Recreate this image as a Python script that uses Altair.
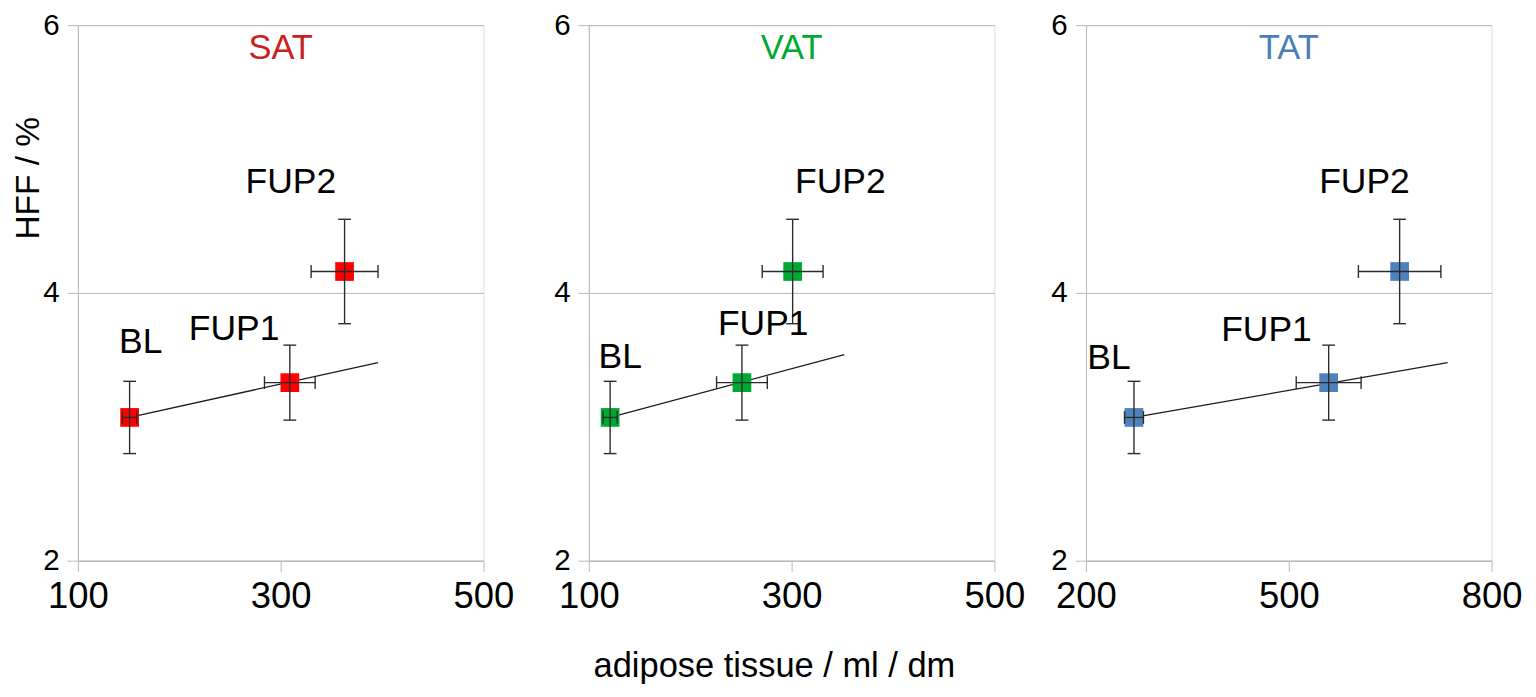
import altair as alt
import pandas as pd

# ---------------- data ----------------
periods = ["BL", "FUP1", "FUP2"]
hff = [3.07, 3.33, 4.16]          # HFF / %
hff_err = [0.27, 0.28, 0.39]

sat_vol = [151, 309, 363]
sat_err = [7, 25, 33]
vat_vol = [121, 251, 301]
vat_err = [7, 25, 30]
tat_vol = [271, 559, 664]
tat_err = [14, 48, 61]

# trend lines (start / end)
sat_trend_x = [151, 396]
sat_trend_y = [3.07, 3.48]
vat_trend_x = [121, 352]
vat_trend_y = [3.07, 3.54]
tat_trend_x = [271, 735]
tat_trend_y = [3.07, 3.48]

# point label anchors (data units)
sat_lab_x = [162, 254, 310]
sat_lab_y = [3.63, 3.73, 4.83]
vat_lab_x = [131, 272, 348]
vat_lab_y = [3.52, 3.77, 4.83]
tat_lab_x = [234, 467, 612]
tat_lab_y = [3.51, 3.72, 4.83]

GRAY = "#b8b8b8"
FONT = "Liberation Sans"
W, H = 412, 544


def panel(name, title_color, marker_color, vol, vol_err, tx, ty, lx, ly,
          domain, ticks, y_title=None, x_title=None):
    df = pd.DataFrame({
        "period": periods,
        "x": vol,
        "xlo": [v - e for v, e in zip(vol, vol_err)],
        "xhi": [v + e for v, e in zip(vol, vol_err)],
        "y": hff,
        "ylo": [v - e for v, e in zip(hff, hff_err)],
        "yhi": [v + e for v, e in zip(hff, hff_err)],
        "lx": lx,
        "ly": ly,
    })
    tdf = pd.DataFrame({"x": tx, "y": ty})

    xscale = alt.Scale(domain=domain, nice=False, zero=False)
    yscale = alt.Scale(domain=[2, 6], nice=False, zero=False)

    xaxis_kw = dict(values=ticks, grid=False, tickSize=11, labelPadding=8,
                    labelFontSize=37, domainColor=GRAY, tickColor=GRAY,
                    labelColor="black", labelFont=FONT, labelFlush=False)
    if x_title:
        xaxis_kw.update(title=x_title, titleFontSize=35, titleFont=FONT,
                        titleFontWeight="normal", titleColor="black",
                        titleX=188, titleY=107, titleBaseline="middle")
    else:
        xaxis_kw.update(title=None)
    yaxis_kw = dict(values=[2, 4, 6], grid=True, gridColor=GRAY, tickSize=11,
                    labelPadding=8, labelFontSize=30, domainColor=GRAY,
                    tickColor=GRAY, labelColor="black", labelFont=FONT)
    if y_title:
        yaxis_kw.update(title=y_title, titleFontSize=34, titleFont=FONT,
                        titleFontWeight="normal", titleColor="black",
                        titleX=-50, titleY=155, titleBaseline="middle",
                        titleAngle=270)
    else:
        yaxis_kw.update(title=None)
    xaxis = alt.Axis(**xaxis_kw)
    yaxis = alt.Axis(**yaxis_kw)

    def X(f):
        return alt.X(f, type="quantitative", scale=xscale, axis=xaxis)

    def Y(f):
        return alt.Y(f, type="quantitative", scale=yscale, axis=yaxis)

    base = alt.Chart(df)
    trend = alt.Chart(tdf).mark_line(color="#1a1a1a", strokeWidth=1.3).encode(
        x=X("x"), y=Y("y"))
    pts = base.mark_square(size=361, opacity=1, color=marker_color).encode(
        x=X("x"), y=Y("y"))
    ebar_c = "#2b2b2b"
    vbar = base.mark_rule(color=ebar_c, strokeWidth=1.4).encode(
        x=X("x"), y=Y("ylo"), y2="yhi")
    hbar = base.mark_rule(color=ebar_c, strokeWidth=1.4).encode(
        x=X("xlo"), x2="xhi", y=Y("y"))
    cap1 = base.mark_tick(orient="horizontal", size=13, thickness=1.4,
                          color=ebar_c, opacity=1).encode(x=X("x"), y=Y("ylo"))
    cap2 = base.mark_tick(orient="horizontal", size=13, thickness=1.4,
                          color=ebar_c, opacity=1).encode(x=X("x"), y=Y("yhi"))
    cap3 = base.mark_tick(orient="vertical", size=13, thickness=1.4,
                          color=ebar_c, opacity=1).encode(x=X("xlo"), y=Y("y"))
    cap4 = base.mark_tick(orient="vertical", size=13, thickness=1.4,
                          color=ebar_c, opacity=1).encode(x=X("xhi"), y=Y("y"))
    labels = base.mark_text(fontSize=36, font=FONT, color="black",
                            baseline="middle", align="center").encode(
        x=X("lx"), y=Y("ly"), text="period:N")
    ttl = alt.Chart(pd.DataFrame({"t": [name]})).mark_text(
        fontSize=35, font=FONT, color=title_color, baseline="middle",
        align="center").encode(text="t:N", x=alt.value(W / 2), y=alt.value(23))

    return alt.layer(trend, pts, vbar, hbar, cap1, cap2, cap3, cap4, labels,
                     ttl).properties(width=W, height=H)


p1 = panel("SAT", "#c9211e", "#ff0000", sat_vol, sat_err, sat_trend_x,
           sat_trend_y, sat_lab_x, sat_lab_y, [100, 500], [100, 300, 500],
           y_title="HFF / %")
p2 = panel("VAT", "#00a933", "#00a933", vat_vol, vat_err, vat_trend_x,
           vat_trend_y, vat_lab_x, vat_lab_y, [100, 500], [100, 300, 500],
           x_title="adipose tissue / ml / dm")
p3 = panel("TAT", "#4a7ebb", "#4f81bd", tat_vol, tat_err, tat_trend_x,
           tat_trend_y, tat_lab_x, tat_lab_y, [200, 800], [200, 500, 800])

inner = alt.hconcat(p1, p2, spacing=107, bounds="flush")
chart = alt.hconcat(inner, p3, spacing=24).properties(
    padding={"top": -4, "left": 3, "right": 5, "bottom": 5}
).configure_view(stroke=GRAY, strokeWidth=1.2).configure(
    background="white", font=FONT)

chart.save("out.html", embed_options={"renderer": "svg", "actions": False})
